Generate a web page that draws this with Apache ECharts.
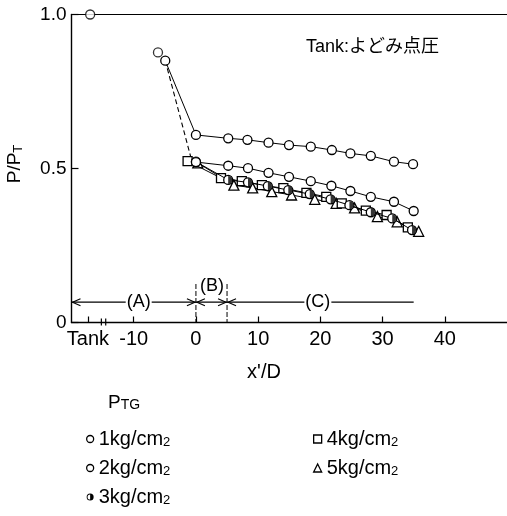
<!DOCTYPE html>
<html>
<head>
<meta charset="utf-8">
<script src="https://cdn.jsdelivr.net/npm/echarts@6/dist/echarts.min.js"></script>
<style>
html,body{margin:0;padding:0;background:#fff}
#c{width:507px;height:516px}
</style>
</head>
<body>
<div id="c"></div>
<script>
// Static-pressure ratio P/PT along the pipe (x'/D), one series per tank gauge pressure PTG
const tankX = -17.0;
const tankP = 1.0;
const upstreamX = [-6.1];
const upstreamP = [0.877];

const x1kg = [-4.93, 0, 5.19, 8.28, 11.67, 14.96, 18.46, 21.85, 24.83, 28.11, 31.83, 34.9];
const p1kg = [0.850, 0.609, 0.598, 0.593, 0.584, 0.576, 0.571, 0.560, 0.549, 0.541, 0.522, 0.514];
const x2kg = [0, 5.19, 8.37, 11.67, 14.96, 18.46, 21.77, 24.83, 28.11, 31.83, 35.0];
const p2kg = [0.521, 0.509, 0.501, 0.486, 0.473, 0.459, 0.444, 0.427, 0.408, 0.392, 0.362];
const x3kg = [0, 5.19, 8.37, 11.56, 14.85, 18.30, 21.65, 24.67, 28.11, 31.56, 34.74];
const p3kg = [0.522, 0.463, 0.455, 0.443, 0.430, 0.417, 0.400, 0.381, 0.358, 0.338, 0.300];
const x4kg = [-1.34, 4.03, 7.37, 10.6, 14.05, 17.76, 20.95, 23.44, 27.31, 30.65, 34.06];
const p4kg = [0.524, 0.469, 0.459, 0.446, 0.436, 0.421, 0.408, 0.387, 0.363, 0.349, 0.309];
const x5kg = [0.3, 6.1, 9.12, 12.19, 15.37, 19.1, 22.54, 25.5, 29.17, 32.35, 35.8];
const p5kg = [0.518, 0.446, 0.437, 0.425, 0.414, 0.400, 0.387, 0.372, 0.344, 0.327, 0.296];

// dashed guide from the last upstream tap to the pipe inlet
const guideX = [-4.93, -0.8];
const guideP = [0.850, 0.535];

const xTickValues = [-17.35, -10, 0, 10, 20, 30, 40];
const xTickLabels = ['Tank', '-10', '0', '10', '20', '30', '40'];
const yTickLabels = {0: '0', 0.5: '0.5', 1: '1.0'};
const axisBreakX = [-15.2, -14.5];

const regionEdges = [-20, 0, 5, 35];
const regionNames = ['(A)', '(B)', '(C)'];
const regionLabelX = [-9.2, 2.6, 19.6];
const regionArrowP = 0.066;
const regionBLabelP = 0.12;
const dividerTopP = 0.125;

const seriesNames = ['1kg/cm2', '2kg/cm2', '3kg/cm2', '4kg/cm2', '5kg/cm2'];

const F = '"Liberation Sans", Arial, Helvetica, sans-serif';
const FJ = '"Liberation Sans", "Noto Sans CJK JP", sans-serif';
const pairs = (xs, ys) => xs.map((x, i) => [x, ys[i]]);

const openMarker = { color: '#fff', borderColor: '#000', borderWidth: 1.3 };
const thinLine = { color: '#000', width: 1 };
const halfDisc = 'path://M0,0 A10,10 0 0,1 0,20 Z';
const halfIcon = 'path://M10,0 A10,10 0 1,1 10,20 A10,10 0 1,1 10,0 Z M10,2.6 A7.4,7.4 0 1,0 10,17.4 A7.4,7.4 0 1,0 10,2.6 Z M10,2.6 A7.4,7.4 0 0,1 10,17.4 Z';

const subName = name => '{n|' + name.slice(0, -1) + '}{s|' + name.slice(-1) + '}';
const legendText = {
  color: '#000', fontFamily: F, fontSize: 20,
  rich: {
    n: { fontFamily: F, fontSize: 20, color: '#000', verticalAlign: 'bottom' },
    s: { fontFamily: F, fontSize: 13, color: '#000', verticalAlign: 'bottom' }
  }
};

const chart = echarts.init(document.getElementById('c'), null, { renderer: 'canvas' });

const option = {
  animation: false,
  backgroundColor: '#fff',
  grid: { left: 71.5, top: 14.5, width: 440, height: 308 },
  xAxis: [{
    type: 'value', min: -20, max: 50,
    axisLine: { show: true, onZero: false, lineStyle: { color: '#000', width: 1.4 } },
    axisTick: { show: true, inside: true, length: 6, customValues: xTickValues, lineStyle: { color: '#000', width: 1.2 } },
    axisLabel: {
      customValues: xTickValues, color: '#000', fontFamily: F, fontSize: 20, margin: 7,
      formatter: v => {
        const i = xTickValues.findIndex(t => Math.abs(t - v) < 1e-6);
        return i >= 0 ? xTickLabels[i] : '';
      }
    },
    splitLine: { show: false }
  }, {
    type: 'value', position: 'top', min: -20, max: 50,
    axisLine: { show: true, onZero: false, lineStyle: { color: '#000', width: 1.2 } },
    axisTick: { show: false }, axisLabel: { show: false }, splitLine: { show: false }
  }],
  yAxis: {
    type: 'value', min: 0, max: 1, interval: 0.5,
    axisLine: { show: true, onZero: false, lineStyle: { color: '#000', width: 1.4 } },
    axisTick: { show: true, inside: true, length: 7, lineStyle: { color: '#000', width: 1.2 } },
    axisLabel: {
      color: '#000', fontFamily: F, fontSize: 19, margin: 5,
      formatter: v => yTickLabels[v] !== undefined ? yTickLabels[v] : ''
    },
    splitLine: { show: false }
  },
  legend: [{
    orient: 'vertical', left: 81, top: 424, itemWidth: 7, itemHeight: 7, itemGap: 9,
    itemStyle: { borderWidth: 1.3 },
    formatter: subName, textStyle: legendText,
    data: [
      { name: seriesNames[0], icon: 'circle' },
      { name: seriesNames[1], icon: 'circle' },
      { name: seriesNames[2], icon: halfIcon, itemStyle: { color: '#000', borderWidth: 0 } }
    ]
  }, {
    orient: 'vertical', left: 308, top: 424, itemWidth: 8, itemHeight: 8, itemGap: 9,
    itemStyle: { borderWidth: 1.3 },
    formatter: subName, textStyle: legendText,
    data: [
      { name: seriesNames[3], icon: 'rect' },
      { name: seriesNames[4], icon: 'triangle' }
    ]
  }],
  series: [
    {
      name: 'guide', type: 'line', data: pairs(guideX, guideP), symbol: 'none', clip: false,
      lineStyle: { color: '#000', width: 1.1, type: [5, 3] }, z: 1
    },
    {
      name: seriesNames[4], type: 'line', data: pairs(x5kg, p5kg), clip: false,
      symbol: 'triangle', symbolSize: 10, itemStyle: openMarker, lineStyle: thinLine, z: 2
    },
    {
      name: seriesNames[3], type: 'line', data: pairs(x4kg, p4kg), clip: false,
      symbol: 'rect', symbolSize: 9, itemStyle: openMarker, lineStyle: thinLine, z: 3
    },
    {
      name: seriesNames[2], type: 'line', data: pairs(x3kg, p3kg), clip: false,
      symbol: 'circle', symbolSize: 9, itemStyle: openMarker, lineStyle: thinLine, z: 4
    },
    {
      name: 'half', type: 'scatter', data: pairs(x3kg, p3kg), clip: false,
      symbol: halfDisc, symbolSize: [4, 8], symbolOffset: [2, 0],
      itemStyle: { color: '#000' }, z: 5, silent: true
    },
    {
      name: seriesNames[1], type: 'line', data: pairs(x2kg, p2kg), clip: false,
      symbol: 'circle', symbolSize: 9, itemStyle: openMarker, lineStyle: thinLine, z: 6
    },
    {
      name: seriesNames[0], type: 'line', data: pairs(x1kg, p1kg), clip: false,
      symbol: 'circle', symbolSize: 9, itemStyle: openMarker, lineStyle: thinLine, z: 7
    },
    {
      name: 'upstream', type: 'scatter', data: pairs(upstreamX, upstreamP), clip: false,
      symbol: 'circle', symbolSize: 9, itemStyle: openMarker, z: 8
    },
    {
      name: 'tank', type: 'scatter', data: [[tankX, tankP]], clip: false,
      symbol: 'circle', symbolSize: 9, itemStyle: openMarker, z: 8
    }
  ]
};

chart.setOption(option);

// decorations placed through the axis scales
const px = (x, y) => chart.convertToPixel({ gridIndex: 0 }, [x, y]);
const stroke = { stroke: '#000', lineWidth: 1.1, fill: null };
const g = [];

axisBreakX.forEach(bx => {
  const p = px(bx, 0);
  g.push({ type: 'line', shape: { x1: p[0], y1: p[1] - 4, x2: p[0], y2: p[1] + 3 }, style: { stroke: '#000', lineWidth: 1.2 } });
});

const chevron = (x, y, dir) => ({
  type: 'polyline',
  shape: { points: [[x - dir * 8, y - 3.5], [x, y], [x - dir * 8, y + 3.5]] },
  style: stroke
});

const yA = px(0, regionArrowP)[1];
const edgePx = regionEdges.map(e => px(e, 0)[0]);
// (A): both ends
g.push({ type: 'line', shape: { x1: edgePx[0], y1: yA, x2: edgePx[1], y2: yA }, style: stroke });
g.push(chevron(edgePx[0] + 1, yA, -1), chevron(edgePx[1] - 1, yA, 1));
// (B): both ends
g.push({ type: 'line', shape: { x1: edgePx[1], y1: yA, x2: edgePx[2], y2: yA }, style: stroke });
g.push(chevron(edgePx[1] + 1, yA, -1), chevron(edgePx[2] - 1, yA, 1));
// (C): open to the right
g.push({ type: 'line', shape: { x1: edgePx[2], y1: yA, x2: edgePx[3], y2: yA }, style: stroke });
g.push(chevron(edgePx[2] + 1, yA, -1));

// dashed dividers between regions
[regionEdges[1], regionEdges[2]].forEach(e => {
  const top = px(e, dividerTopP), bot = px(e, 0);
  g.push({ type: 'line', shape: { x1: top[0], y1: top[1], x2: bot[0], y2: bot[1] }, style: { stroke: '#000', lineWidth: 1, lineDash: [5, 2] } });
});

regionNames.forEach((name, i) => {
  const p = px(regionLabelX[i], i === 1 ? regionBLabelP : regionArrowP);
  g.push({
    type: 'text', x: p[0], y: p[1], z: 10,
    style: {
      text: name, fill: '#000', font: '18px ' + F, align: 'center', verticalAlign: 'middle',
      backgroundColor: i === 1 ? null : '#fff', padding: [0, 1]
    }
  });
});

// annotation and axis titles
g.push({
  type: 'text', x: 306, y: 47,
  style: { text: 'Tank:よどみ点圧', fill: '#000', font: '18px ' + FJ, align: 'left', verticalAlign: 'middle' }
});
g.push({
  type: 'text', x: 15, y: 164, rotation: Math.PI / 2,
  style: {
    text: '{a|P/P}{b|T}', align: 'center', verticalAlign: 'middle',
    rich: {
      a: { fontFamily: F, fontSize: 19, fill: '#000', verticalAlign: 'bottom' },
      b: { fontFamily: F, fontSize: 13, fill: '#000', verticalAlign: 'bottom' }
    }
  }
});
g.push({
  type: 'text', x: 264, y: 372,
  style: { text: "x'/D", fill: '#000', font: '20px ' + F, align: 'center', verticalAlign: 'middle' }
});
g.push({
  type: 'text', x: 108, y: 403,
  style: {
    text: '{p|P}{t|TG}', align: 'left', verticalAlign: 'middle',
    rich: {
      p: { fontFamily: F, fontSize: 19, fill: '#000', verticalAlign: 'bottom' },
      t: { fontFamily: F, fontSize: 14, fill: '#000', verticalAlign: 'bottom' }
    }
  }
});

chart.setOption({ graphic: g });
</script>
</body>
</html>
